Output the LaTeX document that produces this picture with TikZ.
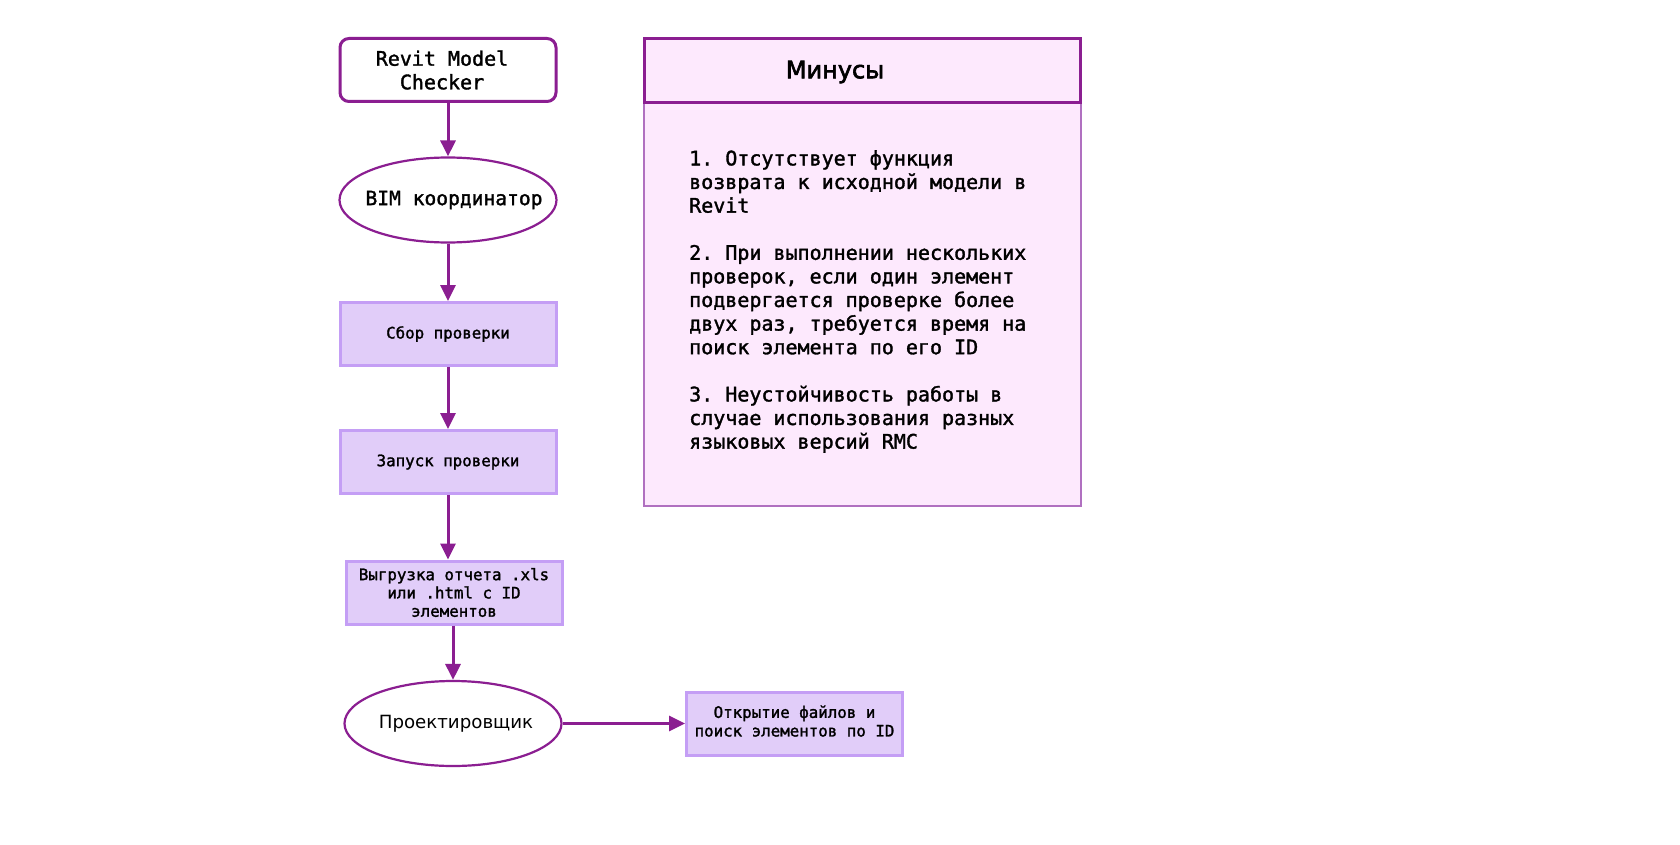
\documentclass[tikz,border=0pt]{standalone}
\usepackage{fontspec}
\setmonofont{DejaVu Sans Mono}[RawFeature={embolden=1.6}]
\setsansfont{DejaVu Sans}
\newfontfamily\titlefont{DejaVu Sans}[RawFeature={embolden=2.6}]
\usetikzlibrary{arrows.meta,shapes.geometric}
\definecolor{pur}{RGB}{139,30,145}
\definecolor{lav}{RGB}{225,205,249}
\definecolor{lavb}{RGB}{196,158,245}
\definecolor{pink}{RGB}{253,233,253}
\definecolor{pinkb}{RGB}{176,112,192}
\tikzset{
  flow/.style={draw=pur, line width=3pt, -{Triangle[length=16pt,width=15pt]}},
  lavbox/.style={rectangle, draw=lavb, fill=lav, line width=3pt, minimum width=216pt, minimum height=63pt, inner sep=0pt, align=center, font=\ttfamily\fontsize{15.8}{18.3}\selectfont},
  oval/.style={ellipse, draw=pur, fill=white, line width=2.2pt, minimum width=217pt, minimum height=85pt, inner sep=0pt},
}
\begin{document}
\begin{tikzpicture}[x=1pt,y=-1pt]
\useasboundingbox (0,0) rectangle (1680,845);
\fill[white] (0,0) rectangle (1680,845);
% right panel
\draw[fill=pink, draw=pinkb, line width=1.3pt] (644,103) rectangle (1081,506);
\node[rectangle, draw=pur, fill=pink, line width=3pt, minimum width=436pt, minimum height=64pt, inner sep=0pt] (hdr) at (862.5,70.5) {};
\node[font=\titlefont\fontsize{24}{28}\selectfont, anchor=center] (title) at (835,72) {Минусы};
\node[anchor=north west, inner sep=0pt, align=left, font=\ttfamily\fontsize{20}{23.6}\selectfont] (txt) at (689,150) {1. Отсутствует функция\\возврата к исходной модели в\\Revit\\[23.6pt]2. При выполнении нескольких\\проверок, если один элемент\\подвергается проверке более\\двух раз, требуется время на\\поиск элемента по его ID\\[23.6pt]3. Неустойчивость работы в\\случае использования разных\\языковых версий RMC};
% flow
\node[rectangle, rounded corners=9pt, draw=pur, fill=white, line width=3pt, minimum width=216pt, minimum height=63pt, inner sep=0pt, align=center, font=\ttfamily\fontsize{20}{23.6}\selectfont] (rmc) at (448,70) {\hspace*{-12pt}Revit Model\\\hspace*{-12pt}Checker};
\node[oval, font=\ttfamily\fontsize{19.6}{23}\selectfont] (bim) at (448,200) {\makebox[0pt]{\hspace*{12pt}BIM координатор}};
\node[lavbox] (sbor) at (448,334) {Сбор проверки};
\node[lavbox] (zap) at (448,462) {Запуск проверки};
\node[lavbox] (vyg) at (454,592.5) {Выгрузка отчета .xls\\или .html с ID\\элементов};
\node[oval, font=\sffamily\fontsize{18.2}{22}\selectfont] (pro) at (453,723.5) {\makebox[0pt]{\hspace*{6pt}Проектировщик}};
\node[lavbox] (otk) at (794.5,723.5) {\raisebox{2.5pt}{\begin{tabular}{@{}c@{}}Открытие файлов и\\[0.3pt]поиск элементов по ID\end{tabular}}};
\draw[flow] (rmc.south) -- (bim.north);
\draw[flow] (bim.south) -- (sbor.north);
\draw[flow] (sbor.south) -- (zap.north);
\draw[flow] (zap.south) -- (zap.south |- vyg.north);
\draw[flow] (vyg.south -| pro.north) -- (pro.north);
\draw[flow] (pro.east) -- (otk.west);
\end{tikzpicture}
\end{document}
